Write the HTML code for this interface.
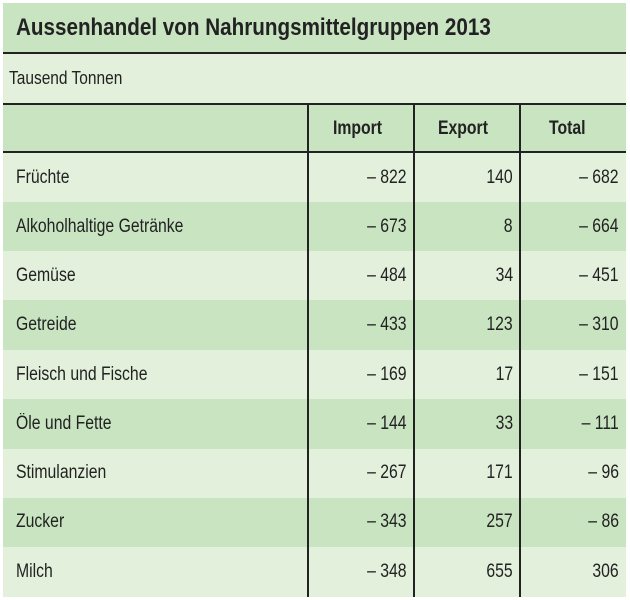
<!DOCTYPE html>
<html><head><meta charset="utf-8"><style>
body{margin:0;width:630px;height:600px;background:#fff;position:relative;overflow:hidden;font-family:"Liberation Sans",sans-serif;color:#222}
.b{position:absolute;left:3px;width:623px}
.l{background:#e3f0dc}.d{background:#c9e4c1}
.t{position:absolute;white-space:nowrap;transform-origin:0 50%;transform:scaleX(0.83);font-size:19px;line-height:20px}
.r{transform-origin:100% 50%;text-align:right}
.h{position:absolute;height:2px;background:#222;left:3px;width:623px}
.v{position:absolute;width:2px;background:#222;top:104px;height:493px}
</style></head><body>
<div class="b d" style="top:3px;height:50px"></div>
<div class="b l" style="top:53px;height:50px"></div>
<div class="b d" style="top:104px;height:48px"></div>
<div class="b l" style="top:152px;height:50px"></div>
<div class="b d" style="top:202px;height:49px"></div>
<div class="b l" style="top:251px;height:49px"></div>
<div class="b d" style="top:300px;height:50px"></div>
<div class="b l" style="top:350px;height:49px"></div>
<div class="b d" style="top:399px;height:50px"></div>
<div class="b l" style="top:449px;height:49px"></div>
<div class="b d" style="top:498px;height:49px"></div>
<div class="b l" style="top:547px;height:50px"></div>
<div class="h" style="top:52px"></div>
<div class="h" style="top:103px"></div>
<div class="h" style="top:151px"></div>
<div class="v" style="left:307px"></div>
<div class="v" style="left:413px"></div>
<div class="v" style="left:519px"></div>
<div class="t" style="left:16px;top:15px;font-size:24px;font-weight:bold;line-height:26px;transform:scaleX(0.86)">Aussenhandel von Nahrungsmittelgruppen 2013</div>
<div class="t" style="left:9px;top:68px;font-size:18px;transform:scaleX(0.86)">Tausend Tonnen</div>
<div class="t" style="left:333px;top:119px;font-weight:bold">Import</div>
<div class="t" style="left:438px;top:119px;font-weight:bold">Export</div>
<div class="t" style="left:549px;top:119px;font-weight:bold">Total</div>

<div class="t" style="left:16px;top:168px">Früchte</div>
<div class="t r" style="right:223px;top:168px">– 822</div><div class="t r" style="right:117px;top:168px">140</div><div class="t r" style="right:11px;top:168px">– 682</div>
<div class="t" style="left:16px;top:217px">Alkoholhaltige Getränke</div>
<div class="t r" style="right:223px;top:217px">– 673</div><div class="t r" style="right:117px;top:217px">8</div><div class="t r" style="right:11px;top:217px">– 664</div>
<div class="t" style="left:16px;top:266px">Gemüse</div>
<div class="t r" style="right:223px;top:266px">– 484</div><div class="t r" style="right:117px;top:266px">34</div><div class="t r" style="right:11px;top:266px">– 451</div>
<div class="t" style="left:16px;top:315px">Getreide</div>
<div class="t r" style="right:223px;top:315px">– 433</div><div class="t r" style="right:117px;top:315px">123</div><div class="t r" style="right:11px;top:315px">– 310</div>
<div class="t" style="left:16px;top:365px">Fleisch und Fische</div>
<div class="t r" style="right:223px;top:365px">– 169</div><div class="t r" style="right:117px;top:365px">17</div><div class="t r" style="right:11px;top:365px">– 151</div>
<div class="t" style="left:16px;top:414px">Öle und Fette</div>
<div class="t r" style="right:223px;top:414px">– 144</div><div class="t r" style="right:117px;top:414px">33</div><div class="t r" style="right:11px;top:414px">– 111</div>
<div class="t" style="left:16px;top:463px">Stimulanzien</div>
<div class="t r" style="right:223px;top:463px">– 267</div><div class="t r" style="right:117px;top:463px">171</div><div class="t r" style="right:11px;top:463px">– 96</div>
<div class="t" style="left:16px;top:512px">Zucker</div>
<div class="t r" style="right:223px;top:512px">– 343</div><div class="t r" style="right:117px;top:512px">257</div><div class="t r" style="right:11px;top:512px">– 86</div>
<div class="t" style="left:16px;top:562px">Milch</div>
<div class="t r" style="right:223px;top:562px">– 348</div><div class="t r" style="right:117px;top:562px">655</div><div class="t r" style="right:11px;top:562px">306</div>
</body></html>
